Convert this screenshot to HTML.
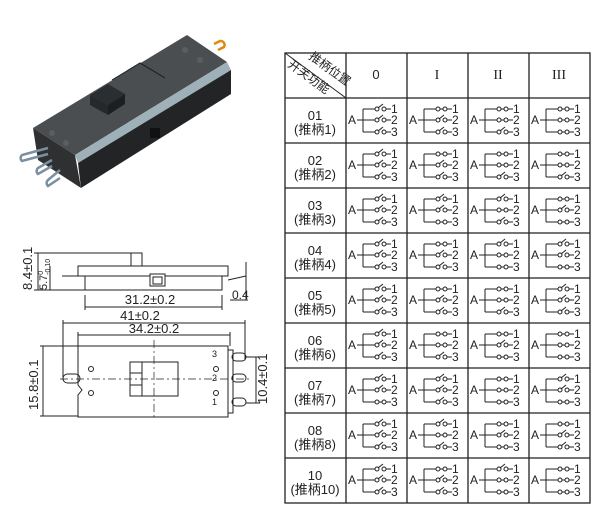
<!DOCTYPE html>
<html><head><meta charset="utf-8"><style>
html,body{margin:0;padding:0;background:#fff;width:615px;height:523px;overflow:hidden}
svg{display:block}
</style></head><body>
<svg width="615" height="523" viewBox="0 0 615 523" xmlns="http://www.w3.org/2000/svg" font-family="Liberation Sans, Noto Sans CJK SC, sans-serif">
<defs>
<g id="b" stroke="#222" stroke-width="1" fill="none">
<path d="M11 22H17M17 11V34M17 11H29M17 22H29M17 34H29M40 11H45M40 22H45M40 34H45"/>
<circle cx="31" cy="11" r="2"/><circle cx="38" cy="11" r="2"/>
<circle cx="31" cy="22" r="2"/><circle cx="38" cy="22" r="2"/>
<circle cx="31" cy="34" r="2"/><circle cx="38" cy="34" r="2"/>
</g>
<path id="c" d="M33 0H36" stroke="#222" stroke-width="1"/>
<path id="o" d="M32 -1L37 -5" stroke="#222" stroke-width="1"/>
</defs>

<!-- 3D switch -->
<g>
<polygon points="33,128 187,35 227,62 75,155" fill="#4a4e51"/>
<polygon points="75,155 227,62 231,70 78,163" fill="#9fb1b8"/>
<polygon points="78,163 231,70 231,94 81,188" fill="#222426"/>
<polygon points="33,128 75,155 81,188 38,160" fill="#2e3032"/>
<polygon points="90,95 108,84 125,94 108,105" fill="#2b2e30"/>
<polygon points="108,105 125,94 125,104 108,115" fill="#1c1e20"/>
<polygon points="90,95 108,105 108,115 90,105" fill="#26282a"/>
<path d="M112,80 L140,63 L165,78" stroke="#1a1a1a" fill="none"/>
<circle cx="52" cy="133" r="3" fill="#5a5e60"/><circle cx="66" cy="143" r="3" fill="#5a5e60"/>
<circle cx="185" cy="50" r="3" fill="#5a5e60"/><circle cx="200" cy="60" r="3" fill="#5a5e60"/>
<rect x="150" y="128" width="10" height="10" fill="#111"/>
<g fill="none" stroke="#7a8fa0" stroke-width="2.5">
<path d="M48,148 L22,155 a4,4 0 0 0 0,6 L48,154"/>
<path d="M52,160 L38,168 a4,4 0 0 0 0,6 L52,166"/>
<path d="M60,170 L48,180 a4,4 0 0 0 0,6 L60,178"/>
</g>
<path d="M214,44 l6,-3 a4,4 0 0 1 4,6 l-6,3" fill="none" stroke="#e08a10" stroke-width="2.5"/>
</g>

<!-- dimension drawing -->
<g stroke="#222" stroke-width="1" fill="none">
<rect x="131" y="253" width="11" height="13"/>
<path d="M78,266 H228 V276 H222 V290 H85 V276 H78 Z"/>
<path d="M85,276 H150 M165,276 H222"/>
<rect x="150" y="274" width="15" height="12"/>
<rect x="153" y="277" width="9" height="7"/>
<path d="M62,276 H78 M228,280 L246,276"/>
<path d="M38,253 V290 M34,253 H131 M34,290 H85 M50,266 V290"/>
<path d="M85,295 V310 M222,295 V310 M85,307 H222"/>
<path d="M246,262 V300 M230,300 H248"/>
<path d="M63,320 V380 M245,320 V360 M63,323 H245"/>
<path d="M78,332 V346 M230,332 V346 M78,335 H230"/>
<path d="M78,346 H228 V417 H78 V395 L82,390 L78,385 Z"/>
<path d="M228,350 H233 V413 H228"/>
<rect x="130" y="362" width="48" height="34"/>
<path d="M142,362 V396 M130,373 H142 M130,385 H142"/>
<circle cx="91" cy="369" r="2.5"/><circle cx="91" cy="393" r="2.5"/>
<circle cx="216" cy="369" r="2.5"/><circle cx="216" cy="393" r="2.5"/>
<rect x="63" y="374" width="17" height="9" rx="4.5"/>
<rect x="232" y="353" width="14" height="8" rx="4"/>
<rect x="232" y="374" width="14" height="8" rx="4"/>
<rect x="232" y="398" width="14" height="8" rx="4"/>
<path d="M43,346 V416 M40,346 H78 M40,416 H78"/>
<path d="M256,357 V403 M246,357 H260 M246,403 H260"/>
<path d="M60,379 H250 M154,340 V420" stroke-dasharray="8,3,2,3" stroke-width="0.7"/>
</g>
<g fill="#222" font-size="13">
<text x="150" y="304" text-anchor="middle">31.2±0.2</text>
<text x="140" y="320" text-anchor="middle">41±0.2</text>
<text x="154" y="333" text-anchor="middle">34.2±0.2</text>
<text x="232" y="299" font-size="12">0.4</text>
<text transform="translate(32,290) rotate(-90)">8.4±0.1</text>
<text transform="translate(47,290) rotate(-90)" font-size="11">5.7<tspan font-size="7" dy="-4">0</tspan><tspan font-size="7" dy="7" dx="-4">-0.10</tspan></text>
<text transform="translate(38,410) rotate(-90)">15.8±0.1</text>
<text transform="translate(267,404) rotate(-90)">10.4±0.1</text>
<text x="212" y="357" font-size="9">3</text>
<text x="212" y="381" font-size="9">2</text>
<text x="212" y="405" font-size="9">1</text>
</g>

<!-- table -->
<g stroke="#222" stroke-width="1.3" fill="none">
<rect x="285" y="53" width="305" height="450"/>
<path d="M346,53V503M407,53V503M468,53V503M529,53V503"/>
<path d="M285,98H590M285,143H590M285,188H590M285,233H590M285,278H590M285,323H590M285,368H590M285,413H590M285,458H590"/>
<path d="M285,53L346,98" stroke-width="1"/>
</g>
<g fill="#222" font-size="12">
<text transform="translate(308,58) rotate(36)">推柄位置</text>
<text transform="translate(287,66) rotate(36)">开关功能</text>
</g>
<g fill="#222" font-family="Liberation Serif, serif" font-size="14" text-anchor="middle">
<text x="376" y="79" font-family="Liberation Sans, sans-serif" font-size="13">0</text>
<text x="437" y="79">I</text><text x="498" y="79">II</text><text x="559" y="79">III</text>
</g>
<g fill="#222" font-size="13" text-anchor="middle">
<text x="315" y="120">01</text><text x="315" y="134">(推柄1)</text>
<text x="315" y="165">02</text><text x="315" y="179">(推柄2)</text>
<text x="315" y="210">03</text><text x="315" y="224">(推柄3)</text>
<text x="315" y="255">04</text><text x="315" y="269">(推柄4)</text>
<text x="315" y="300">05</text><text x="315" y="314">(推柄5)</text>
<text x="315" y="345">06</text><text x="315" y="359">(推柄6)</text>
<text x="315" y="390">07</text><text x="315" y="404">(推柄7)</text>
<text x="315" y="435">08</text><text x="315" y="449">(推柄8)</text>
<text x="315" y="480">10</text><text x="315" y="494">(推柄10)</text>
</g>
<g fill="#222" font-size="12">
<!-- row 01 -->
<g transform="translate(346,98)"><use href="#b"/><use href="#o" y="11"/><use href="#o" y="22"/><use href="#o" y="34"/><text x="2" y="26">A</text><text x="45" y="15">1</text><text x="45" y="26">2</text><text x="45" y="38">3</text></g>
<g transform="translate(407,98)"><use href="#b"/><use href="#c" y="11"/><use href="#o" y="22"/><use href="#o" y="34"/><text x="2" y="26">A</text><text x="45" y="15">1</text><text x="45" y="26">2</text><text x="45" y="38">3</text></g>
<g transform="translate(468,98)"><use href="#b"/><use href="#c" y="11"/><use href="#c" y="22"/><use href="#o" y="34"/><text x="2" y="26">A</text><text x="45" y="15">1</text><text x="45" y="26">2</text><text x="45" y="38">3</text></g>
<g transform="translate(529,98)"><use href="#b"/><use href="#c" y="11"/><use href="#c" y="22"/><use href="#c" y="34"/><text x="2" y="26">A</text><text x="45" y="15">1</text><text x="45" y="26">2</text><text x="45" y="38">3</text></g>
<!-- row 02 -->
<g transform="translate(346,143)"><use href="#b"/><use href="#o" y="11"/><use href="#o" y="22"/><use href="#o" y="34"/><text x="2" y="26">A</text><text x="45" y="15">1</text><text x="45" y="26">2</text><text x="45" y="38">3</text></g>
<g transform="translate(407,143)"><use href="#b"/><use href="#c" y="11"/><use href="#o" y="22"/><use href="#o" y="34"/><text x="2" y="26">A</text><text x="45" y="15">1</text><text x="45" y="26">2</text><text x="45" y="38">3</text></g>
<g transform="translate(468,143)"><use href="#b"/><use href="#c" y="11"/><use href="#c" y="22"/><use href="#o" y="34"/><text x="2" y="26">A</text><text x="45" y="15">1</text><text x="45" y="26">2</text><text x="45" y="38">3</text></g>
<g transform="translate(529,143)"><use href="#b"/><use href="#c" y="11"/><use href="#c" y="22"/><use href="#o" y="34"/><text x="2" y="26">A</text><text x="45" y="15">1</text><text x="45" y="26">2</text><text x="45" y="38">3</text></g>
<!-- row 03 -->
<g transform="translate(346,188)"><use href="#b"/><use href="#o" y="11"/><use href="#o" y="22"/><use href="#o" y="34"/><text x="2" y="26">A</text><text x="45" y="15">1</text><text x="45" y="26">2</text><text x="45" y="38">3</text></g>
<g transform="translate(407,188)"><use href="#b"/><use href="#o" y="11"/><use href="#o" y="22"/><use href="#c" y="34"/><text x="2" y="26">A</text><text x="45" y="15">1</text><text x="45" y="26">2</text><text x="45" y="38">3</text></g>
<g transform="translate(468,188)"><use href="#b"/><use href="#o" y="11"/><use href="#c" y="22"/><use href="#o" y="34"/><text x="2" y="26">A</text><text x="45" y="15">1</text><text x="45" y="26">2</text><text x="45" y="38">3</text></g>
<g transform="translate(529,188)"><use href="#b"/><use href="#c" y="11"/><use href="#o" y="22"/><use href="#c" y="34"/><text x="2" y="26">A</text><text x="45" y="15">1</text><text x="45" y="26">2</text><text x="45" y="38">3</text></g>
<!-- row 04 -->
<g transform="translate(346,233)"><use href="#b"/><use href="#o" y="11"/><use href="#o" y="22"/><use href="#o" y="34"/><text x="2" y="26">A</text><text x="45" y="15">1</text><text x="45" y="26">2</text><text x="45" y="38">3</text></g>
<g transform="translate(407,233)"><use href="#b"/><use href="#c" y="11"/><use href="#o" y="22"/><use href="#o" y="34"/><text x="2" y="26">A</text><text x="45" y="15">1</text><text x="45" y="26">2</text><text x="45" y="38">3</text></g>
<g transform="translate(468,233)"><use href="#b"/><use href="#o" y="11"/><use href="#c" y="22"/><use href="#c" y="34"/><text x="2" y="26">A</text><text x="45" y="15">1</text><text x="45" y="26">2</text><text x="45" y="38">3</text></g>
<g transform="translate(529,233)"><use href="#b"/><use href="#o" y="11"/><use href="#o" y="22"/><use href="#c" y="34"/><text x="2" y="26">A</text><text x="45" y="15">1</text><text x="45" y="26">2</text><text x="45" y="38">3</text></g>
<!-- row 05 -->
<g transform="translate(346,278)"><use href="#b"/><use href="#o" y="11"/><use href="#o" y="22"/><use href="#o" y="34"/><text x="2" y="26">A</text><text x="45" y="15">1</text><text x="45" y="26">2</text><text x="45" y="38">3</text></g>
<g transform="translate(407,278)"><use href="#b"/><use href="#c" y="11"/><use href="#o" y="22"/><use href="#o" y="34"/><text x="2" y="26">A</text><text x="45" y="15">1</text><text x="45" y="26">2</text><text x="45" y="38">3</text></g>
<g transform="translate(468,278)"><use href="#b"/><use href="#c" y="11"/><use href="#c" y="22"/><use href="#o" y="34"/><text x="2" y="26">A</text><text x="45" y="15">1</text><text x="45" y="26">2</text><text x="45" y="38">3</text></g>
<g transform="translate(529,278)"><use href="#b"/><use href="#o" y="11"/><use href="#o" y="22"/><use href="#o" y="34"/><text x="2" y="26">A</text><text x="45" y="15">1</text><text x="45" y="26">2</text><text x="45" y="38">3</text></g>
<!-- row 06 -->
<g transform="translate(346,323)"><use href="#b"/><use href="#o" y="11"/><use href="#o" y="22"/><use href="#o" y="34"/><text x="2" y="26">A</text><text x="45" y="15">1</text><text x="45" y="26">2</text><text x="45" y="38">3</text></g>
<g transform="translate(407,323)"><use href="#b"/><use href="#c" y="11"/><use href="#c" y="22"/><use href="#o" y="34"/><text x="2" y="26">A</text><text x="45" y="15">1</text><text x="45" y="26">2</text><text x="45" y="38">3</text></g>
<g transform="translate(468,323)"><use href="#b"/><use href="#c" y="11"/><use href="#o" y="22"/><use href="#c" y="34"/><text x="2" y="26">A</text><text x="45" y="15">1</text><text x="45" y="26">2</text><text x="45" y="38">3</text></g>
<g transform="translate(529,323)"><use href="#b"/><use href="#c" y="11"/><use href="#c" y="22"/><use href="#c" y="34"/><text x="2" y="26">A</text><text x="45" y="15">1</text><text x="45" y="26">2</text><text x="45" y="38">3</text></g>
<!-- row 07 -->
<g transform="translate(346,368)"><use href="#b"/><use href="#o" y="11"/><use href="#o" y="22"/><use href="#c" y="34"/><text x="2" y="26">A</text><text x="45" y="15">1</text><text x="45" y="26">2</text><text x="45" y="38">3</text></g>
<g transform="translate(407,368)"><use href="#b"/><use href="#o" y="11"/><use href="#o" y="22"/><use href="#o" y="34"/><text x="2" y="26">A</text><text x="45" y="15">1</text><text x="45" y="26">2</text><text x="45" y="38">3</text></g>
<g transform="translate(468,368)"><use href="#b"/><use href="#c" y="11"/><use href="#c" y="22"/><use href="#c" y="34"/><text x="2" y="26">A</text><text x="45" y="15">1</text><text x="45" y="26">2</text><text x="45" y="38">3</text></g>
<g transform="translate(529,368)"><use href="#b"/><use href="#o" y="11"/><use href="#o" y="22"/><use href="#c" y="34"/><text x="2" y="26">A</text><text x="45" y="15">1</text><text x="45" y="26">2</text><text x="45" y="38">3</text></g>
<!-- row 08 -->
<g transform="translate(346,413)"><use href="#b"/><use href="#o" y="11"/><use href="#o" y="22"/><use href="#o" y="34"/><text x="2" y="26">A</text><text x="45" y="15">1</text><text x="45" y="26">2</text><text x="45" y="38">3</text></g>
<g transform="translate(407,413)"><use href="#b"/><use href="#o" y="11"/><use href="#c" y="22"/><use href="#o" y="34"/><text x="2" y="26">A</text><text x="45" y="15">1</text><text x="45" y="26">2</text><text x="45" y="38">3</text></g>
<g transform="translate(468,413)"><use href="#b"/><use href="#c" y="11"/><use href="#o" y="22"/><use href="#c" y="34"/><text x="2" y="26">A</text><text x="45" y="15">1</text><text x="45" y="26">2</text><text x="45" y="38">3</text></g>
<g transform="translate(529,413)"><use href="#b"/><use href="#c" y="11"/><use href="#o" y="22"/><use href="#o" y="34"/><text x="2" y="26">A</text><text x="45" y="15">1</text><text x="45" y="26">2</text><text x="45" y="38">3</text></g>
<!-- row 10 -->
<g transform="translate(346,458)"><use href="#b"/><use href="#o" y="11"/><use href="#o" y="22"/><use href="#o" y="34"/><text x="2" y="26">A</text><text x="45" y="15">1</text><text x="45" y="26">2</text><text x="45" y="38">3</text></g>
<g transform="translate(407,458)"><use href="#b"/><use href="#c" y="11"/><use href="#o" y="22"/><use href="#o" y="34"/><text x="2" y="26">A</text><text x="45" y="15">1</text><text x="45" y="26">2</text><text x="45" y="38">3</text></g>
<g transform="translate(468,458)"><use href="#b"/><use href="#o" y="11"/><use href="#c" y="22"/><use href="#c" y="34"/><text x="2" y="26">A</text><text x="45" y="15">1</text><text x="45" y="26">2</text><text x="45" y="38">3</text></g>
<g transform="translate(529,458)"><use href="#b"/><use href="#c" y="11"/><use href="#c" y="22"/><use href="#c" y="34"/><text x="2" y="26">A</text><text x="45" y="15">1</text><text x="45" y="26">2</text><text x="45" y="38">3</text></g>
</g>
</svg>
</body></html>
